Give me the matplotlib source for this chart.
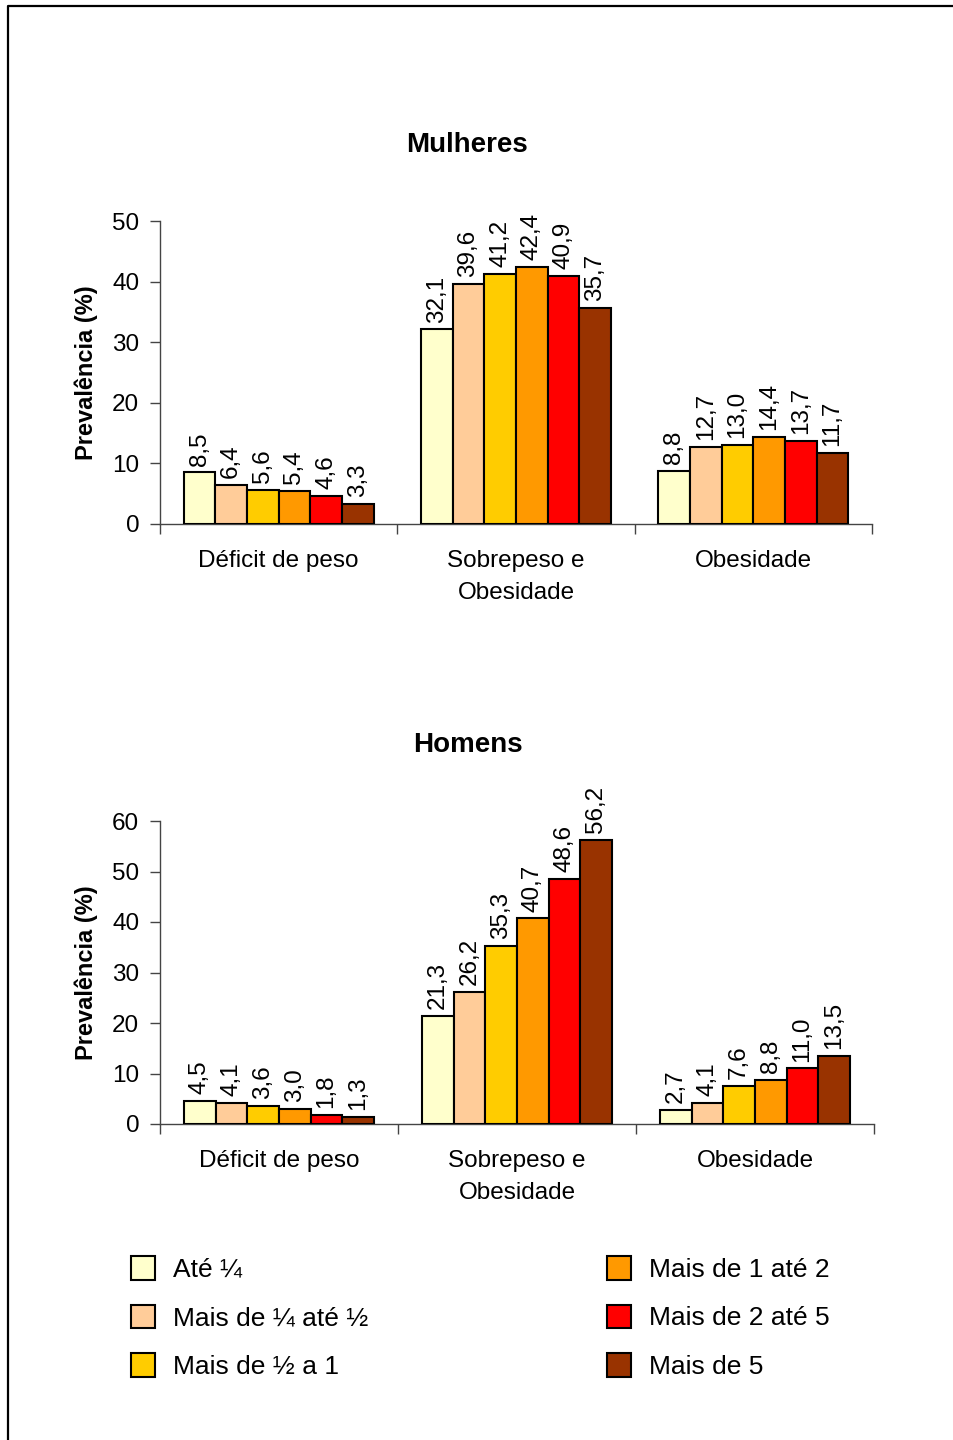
import matplotlib
matplotlib.use("Agg")
import matplotlib.pyplot as plt
import numpy as np
from matplotlib.lines import Line2D

plt.rcParams['font.family'] = ['Liberation Sans', 'DejaVu Sans']

categorias = ["Déficit de peso", "Sobrepeso e\nObesidade", "Obesidade"]
faixas = ["Até ¼", "Mais de ¼ até ½", "Mais de ½ a 1",
          "Mais de 1 até 2", "Mais de 2 até 5", "Mais de 5"]
cores = ["#FFFFCC", "#FFCC99", "#FFCC00", "#FF9900", "#FF0000", "#993300"]

# linhas = faixa de renda, colunas = categoria
mulheres = [
    [8.5, 32.1, 8.8],
    [6.4, 39.6, 12.7],
    [5.6, 41.2, 13.0],
    [5.4, 42.4, 14.4],
    [4.6, 40.9, 13.7],
    [3.3, 35.7, 11.7],
]
homens = [
    [4.5, 21.3, 2.7],
    [4.1, 26.2, 4.1],
    [3.6, 35.3, 7.6],
    [3.0, 40.7, 8.8],
    [1.8, 48.6, 11.0],
    [1.3, 56.2, 13.5],
]

W, H = 954, 1440
fig = plt.figure(figsize=(W / 100, H / 100), dpi=100)


def painel(rect, dados, ymax, titulo, titulo_xy):
    ax = fig.add_axes(rect)
    n = len(faixas)
    bw = 0.8 / n
    x0 = np.arange(len(categorias))
    for k in range(n):
        xs = x0 + 0.1 + bw * (k + 0.5)
        bars = ax.bar(xs, dados[k], width=bw, color=cores[k],
                      edgecolor="black", linewidth=1.5, label=faixas[k], zorder=3)
        for b, v in zip(bars, dados[k]):
            ax.annotate(f"{v:.1f}".replace(".", ","),
                        (b.get_x() + b.get_width() / 2, b.get_height()),
                        xytext=(0, 5), textcoords="offset points",
                        rotation=90, ha="center", va="bottom", fontsize=17.5)
    ax.set_xlim(0, len(categorias))
    ax.set_ylim(0, ymax)
    ax.set_yticks(np.arange(0, ymax + 1, 10))
    ax.set_xticks(np.arange(0, len(categorias) + 1))
    ax.set_xticklabels([])
    ax.set_xticks(x0 + 0.5, minor=True)
    ax.set_xticklabels(categorias, minor=True, fontsize=17.5, linespacing=1.55)
    ax.tick_params(axis="x", which="minor", length=0, pad=19)
    ax.tick_params(axis="x", which="major", length=7, color="#444444", width=1)
    ax.tick_params(axis="y", length=7, color="#444444", width=1, labelsize=17.5, pad=8)
    for s in ["top", "right"]:
        ax.spines[s].set_visible(False)
    for s in ["left", "bottom"]:
        ax.spines[s].set_color("#444444")
        ax.spines[s].set_linewidth(1)
    ax.set_ylabel("Prevalência (%)", fontsize=17, fontweight="bold", labelpad=10)
    fig.text(titulo_xy[0] / W, 1 - titulo_xy[1] / H, titulo, ha="center", va="center",
             fontsize=20, fontweight="bold")
    return ax


ax1 = painel([160 / W, 1 - 524 / H, 712 / W, 303 / H], mulheres, 50, "Mulheres", (467, 145))
ax2 = painel([160 / W, 1 - 1124 / H, 714 / W, 303 / H], homens, 60, "Homens", (468, 745))

h, l = ax2.get_legend_handles_labels()
kw = dict(frameon=False, fontsize=19, handlelength=0.9, handleheight=1.0,
          handletextpad=0.7, labelspacing=0.86, borderpad=0, borderaxespad=0,
          loc="upper left")
fig.legend(h[:3], l[:3], bbox_to_anchor=(131 / W, 1 - 1256 / H), **kw)
fig.legend(h[3:], l[3:], bbox_to_anchor=(607 / W, 1 - 1256 / H), **kw)

# moldura
fig.add_artist(Line2D([8 / W, 8 / W, 1], [0, 1 - 6 / H, 1 - 6 / H],
                      color="black", linewidth=1.6, transform=fig.transFigure))

fig.savefig("out.png", dpi=100)
